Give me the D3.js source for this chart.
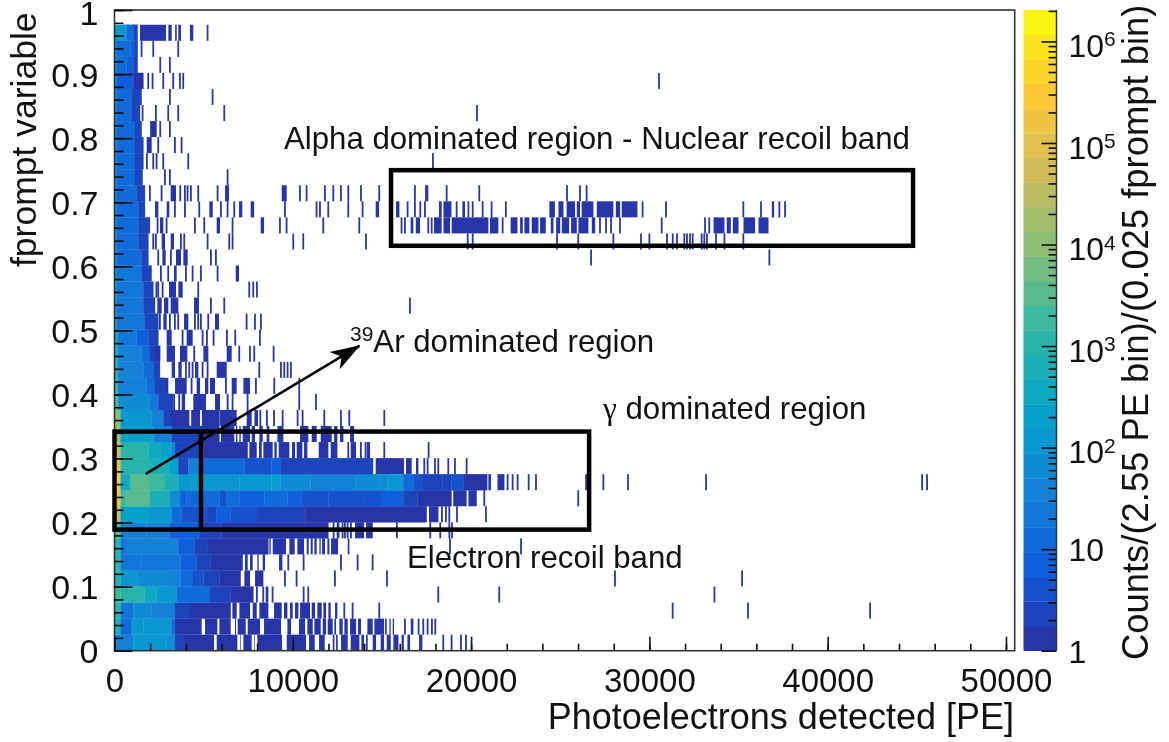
<!DOCTYPE html>
<html>
<head>
<meta charset="utf-8">
<script src="https://cdn.jsdelivr.net/npm/d3@7"></script>
<style>
  html, body { margin: 0; padding: 0; background: #fff; }
  svg { display: block; font-family: "Liberation Sans", sans-serif; filter: blur(0.45px); }
  .domain { display: none; }
  .tick line { stroke: #111; stroke-width: 1.6; }
</style>
</head>
<body>
<svg id="chart" width="1169" height="742"></svg>
<script>
// fprompt bin width, bins run upward from 0 (39 filled rows)
const fpromptBin = 0.02505;
const peBin = 100;
const maxPE = 50490;
const maxCounts = 2.04e6;

const xMajor = [0, 10000, 20000, 30000, 40000, 50000];
const xMinor = d3.range(0, 50001, 2000);
const yMajor = [0, 0.1, 0.2, 0.3, 0.4, 0.5, 0.6, 0.7, 0.8, 0.9, 1];
const yMinor = d3.range(0, 51).map(d => d / 50);
const barMajor = [1, 10, 100, 1000, 10000, 100000, 1000000];
const barMinor = [1, 10, 100, 1000, 10000, 100000].flatMap(d => d3.range(2, 10).map(k => k * d)).concat([2000000]);

// dense part of each fprompt row, bottom row first: [upper PE edge, counts]
const coreSteps = [
  [[1057,30],[2927,130],[3395,50],[3900,2]],
  [[346,500],[970,14],[1618,100],[3200,130],[3400,14],[4797,1.5]],
  [[346,900],[1057,20],[2086,50],[3395,30],[4236,3],[6517,1.5]],
  [[346,1500],[1700,1000],[2366,350],[3488,110],[5358,14],[6500,2.5],[7789,1.5]],
  [[346,1100],[1300,90],[3000,50],[3700,30],[4400,12],[5000,5],[5900,2.5],[7078,1.5]],
  [[346,900],[1500,20],[3700,25],[4600,8],[5400,3],[7190,1.5]],
  [[346,1000],[700,20],[3580,35],[4500,8],[5200,2.5],[8630,1.5]],
  [[346,3000],[1800,30],[3114,40],[4797,7],[6000,3],[11996,1.5]],
  [[346,60000],[1992,170],[3208,90],[3769,14],[4800,5],[5200,4],[5700,2],[6500,6],[8000,4],[9000,3],[10700,3],[17512,1.5]],
  [[346,200000],[683,2000],[1992,3200],[3114,500],[3680,70],[4049,6],[5900,14],[6300,5],[7000,10],[8400,6],[9700,16],[10500,6],[12000,4],[14000,5],[15000,4],[16200,7],[17000,3],[18900,1.5]],
  [[346,300000],[870,350],[1992,3000],[2834,2000],[3580,600],[4236,100],[4700,200],[7000,90],[8800,120],[9300,250],[11000,60],[13500,35],[14900,50],[15300,70],[16200,130],[16760,15],[17300,5],[18400,3],[18900,2.5],[19570,5],[20900,1.5]],
  [[346,200000],[1992,1200],[3114,600],[3580,200],[4142,3],[4797,40],[7300,12],[8800,4],[9300,9],[14500,2.5]],
  [[346,50000],[1900,900],[2600,400],[3200,200],[3400,30],[5000,2.5],[7471,1.5]],
  [[346,20000],[2180,170],[3200,40],[4800,2.5],[5882,1.5]],
  [[346,10000],[2080,100],[2740,30],[3114,2.5]],
  [[200,4000],[2000,70],[2460,20],[3300,2.5]],
  [[200,1500],[1800,40],[2270,12],[2830,2.5]],
  [[200,1000],[1620,35],[2180,12],[2550,2.5]],
  [[200,700],[1520,35],[1990,12],[2270,2.5],[2560,1.5]],
  [[200,500],[1240,25],[1900,9],[2460,2]],
  [[130,300],[1712,20],[2460,2.5]],
  [[130,250],[1618,18],[2273,2.5]],
  [[130,200],[1618,18],[2180,2.5]],
  [[130,150],[1525,18],[2085,3]],
  [[130,120],[1525,16],[1900,2.5]],
  [[130,100],[1340,16],[1900,1.8]],
  [[130,90],[1340,16],[1990,2.2]],
  [[130,90],[1340,14],[1710,2]],
  [[130,80],[1240,14],[1710,2]],
  [[130,70],[1150,12],[1580,2]],
  [[130,60],[1150,12],[1620,2]],
  [[130,60],[1150,12],[1620,2]],
  [[130,60],[1150,12],[1525,2]],
  [[130,50],[970,12],[1430,2]],
  [[130,50],[970,12],[1525,2]],
  [[130,50],[1057,8],[1620,1.5]],
  [[130,60],[683,14],[1057,7],[1300,2]],
  [[130,60],[900,15],[1100,6],[1300,2]],
  [[683,100],[1057,10],[1300,2]]
];

// single counts beyond the dense part, bottom row first: a PE value or a [from, to] run
const tailRuns = [
  [[3900,5582],[5732,6891],[7041,7078],[7228,7696],[7826,7864],[8013,9397],[9659,10744],[10912,11230],[11473,11791],[12240,12333],[12426,12520],[12707,13081],[13249,13736],[13848,13997],[14110,14203],[14484,14671],[14932,15119],[15269,15493],[15643,15923],[16100,16230],[16427,16577],[17082,17269],18390,18858,19382,19663],
  [[4797,4890],[5078,5769],[5882,6517],[6760,6817],[6910,7359],[7471,8163],[8387,9341],[9696,9902],[10351,10688],[10818,11118],[11211,11566],[11678,11866],[11959,12240],[12333,12426],[12614,12800],[12894,13081],[13212,13549],[13660,13829],[14184,14484],[14577,15118],[15175,15268],[15418,15492],[15605,15680],16240,[16614,16764],17007,17269,17512,17755,17942],
  [[6611,6854],[7004,7602],[7752,7976],[8126,8630],[8949,9378],[9509,9696],[9846,9995],[10127,10313],[10407,10968],[11062,11249],[11379,11622],[11716,11866],[11996,12128],[12370,12500],12838,13305,14800,31256,35480,42330],
  [7938,8294,[8481,8630],8817,10557,10818,18110,21530,33600],
  [[7284,7602],[7882,8350],9509,10164,12314,15232,28020,35150],
  [[7321,7471],[7602,7752],[8013,8088],[8312,8443],[9229,9416],9696,10557,12651,13586,14427],
  [[8686,8761],[8874,9621],[9808,10108],[10257,10631],[10781,10893],[11005,11117],[11211,11342],[11492,11566],[11641,11809],[11940,12053],[12146,12539],[13081,13175],18765,22750],
  [12240,[12464,12614],12744,12875,13025,13213,[13492,13997],[14110,14484],15790,17660,18220,18730,18880],
  [[17640,18170],18316,18540,18727,19158,20785],
  [[19000,19750],[19850,20320],20690,25960],
  [[20970,21120],[21480,21870],22000,22280,22560,23180,23590,[26400,26500],27370,28750,33130,45245,45525],
  [[14650,16240],[16350,16670],[16910,17045],17325,17512,17923,18110,18671,19045,19700],
  [[7565,7976],[8107,8256],[8350,8874],[8967,9098],[9210,9809],[9958,10127],[10220,10538],[10631,10818],[11454,11996],[12127,12501],13062,[13249,13549],13770,14030,[14147,14334],15081,17568],
  [[5975,6723],[6817,6891],[7004,7078],[7191,7602],[7696,7882],[8126,8313],[8537,8687],[9135,9472],[10407,10875],[11062,11342],[11566,12184],[12314,12501],[12651,12838],[13212,13436]],
  [[3114,4200],[4300,4800],[4900,5900],[5919,6854],[7415,7695],[7850,8050],8130,8500,8900,9380,10220,10500,11716,12650,13118,15082],
  [[3300,3395],3580,[3770,3960],[4423,5134],[5638,5919],[6293,6400],6573,7415,10313,11249],
  [[2833,3020],[3395,4049],4273,[4610,4797],[5078,5264],[5358,5638],6200,[6573,6854],[7228,7602],7882,8911,10313],
  [[3208,3395],[3582,3769],3956,4143,4330,[4517,4704],4891,5171,[5732,6293],8070,9285,9472,9659,9846],
  [[2927,3395],[3675,4086],4423,[4984,5264],[6293,6573],6947,7546,7789,8874],
  [[2927,3208],3769,[4049,4385],4890,5134,5508,6256,6723,8107],
  [2497,[2740,2927],3058,3338,3525,[3900,4142],4460,4647,4797,5208,[5638,5863],7359,7826,8163],
  [[2403,2647],[2777,3020],[3151,3582],[4460,4740],5358,6106,16520],
  [2300,2403,2647,[3058,3450],[3582,3825],4647,7508,7733,7939],
  [2553,2964,[3338,3488],3956,4330,4797,5732,[6797,6985]],
  [2403,[2684,2871],3114,[3450,3731],[3862,4105],5358,5638,26680,36680],
  [2123,2273,[2646,2834],[3151,3338],3675,3862,5171,6386,6573,9977,10538,14054,19760,20040,24770,25960,27930,29480,29950,30940,31260,31500,31910,32060,32230,32380,32880,33030,33180,33690,34160,35220],
  [2366,[2553,2740],2871,4460,4984,[5732,5919],6573,[8200,8390],9229,9603,11660,13680,16050,16240,[16610,16760],[16900,17140],17550,17740,[17920,18350],[18450,18820],[18910,20970],[21060,21530],21720,[22220,22600],[22750,22900],[22990,23270],[23400,23780],[23870,24190],[24470,24620],[24770,25000],[25090,25500],[25610,25930],[26020,26580],[26770,26960],27180,27520,27800,28300,30640,33070,33310,[33600,34210],[34340,34570],[34680,35000],[35280,35930],[36120,36680]],
  [[2273,2460],[2927,3077],3338,3900,4704,[5320,5510],5919,6293,6667,[6985,7170],[7640,7830],9510,11285,11473,11940,13062,13866,[14650,14840],[15790,15980],16390,16800,17100,17360,[18200,18350],[18450,18900],19140,[19510,19660],19800,20040,20600,21100,21900,[24390,24700],[24900,25180],[25360,25830],[25930,26110],[26200,26860],[27050,27980],[28120,28360],[28450,29330],29570,30880,35220,36210,[36870,37000],37240,37560],
  [1936,2590,[3151,3450],3638,3900,4049,4236,4647,5732,[6200,6424],[9378,9660],10351,10725,11753,12221,12651,13062,13773,14800,16800,[17420,17600],18580,20410,25330,26060,26430],
  [2777,3058,6293],
  [1768,2123,2310,2684,4086,17810],
  [[1805,2085],2403,3338,3712],
  [[2000,2366],2516,3058],
  [1525,2273,2964,3525,6106,20280],
  [3058,5451],
  [1842,2085,2684,3245,3619,3806,30490],
  [2516,3058],
  [1468,2123,3525],
  [[1431,2890],[3020,3210],[3400,3490],[3580,3730],[4230,4420],5170]
];

// ROOT kBird palette stops
const birdStops = [0, 0.125, 0.25, 0.375, 0.5, 0.625, 0.75, 0.875, 1];
const birdColors = ['#2a2f9e', '#0f5cdd', '#1481d6', '#06a4ca', '#2eb7a4', '#87bf77', '#d1bb59', '#fec832', '#f9fb0e'];
const contourCount = 26;

// annotation boxes as [PE from, PE to, fprompt low, fprompt high]
const alphaBox = [15510, 44790, 0.632, 0.75];
const electronBox = [0, 26620, 0.189, 0.342];
const innerLine = [4850, 0.189, 0.342];
const arrowLine = [1760, 0.276, 13740, 0.476];

const svg = d3.select('#chart');

const x = d3.scaleLinear().domain([0, maxPE]).range([114.5, 1014.7]);
const y = d3.scaleLinear().domain([0, 1]).range([650.7, 10]);
const yBar = d3.scaleLog().domain([1, maxCounts]).range([650.7, 10]);

const birdScale = d3.scaleLinear().domain(birdStops).range(birdColors).interpolate(d3.interpolateRgb);
const bandColors = d3.range(contourCount).map(i => birdScale((i + 0.5) / contourCount));
const logMax = Math.log10(maxCounts);
const colorOf = d3.scaleQuantize().domain([0, logMax]).range(bandColors);
const countColor = c => colorOf(Math.log10(c));

// flatten rows into cells
const tailCells = [];
tailRuns.forEach((row, r) => {
  row.forEach(hit => {
    const from = Array.isArray(hit) ? hit[0] : hit;
    const to = Array.isArray(hit) ? hit[1] : hit + peBin;
    tailCells.push({ r, from, to, counts: 1 });
  });
});
const coreCells = [];
coreSteps.forEach((row, r) => {
  let from = 0;
  row.forEach(([to, counts]) => {
    coreCells.push({ r, from, to, counts });
    from = to;
  });
});

const plot = svg.append('g');
plot.selectAll('rect.tail')
  .data(tailCells)
  .enter()
  .append('rect')
  .attr('class', 'tail')
  .attr('x', d => x(d.from))
  .attr('y', d => y((d.r + 1) * fpromptBin))
  .attr('width', d => x(d.to) - x(d.from))
  .attr('height', d => y(d.r * fpromptBin) - y((d.r + 1) * fpromptBin))
  .attr('fill', d => countColor(d.counts));

plot.selectAll('rect.core')
  .data(coreCells)
  .enter()
  .append('rect')
  .attr('class', 'core')
  .attr('x', d => x(d.from))
  .attr('y', d => y((d.r + 1) * fpromptBin))
  .attr('width', d => x(d.to) - x(d.from))
  .attr('height', d => y(d.r * fpromptBin) - y((d.r + 1) * fpromptBin))
  .attr('fill', d => countColor(d.counts))
  .attr('stroke', d => countColor(d.counts))
  .attr('stroke-width', 0.3);

// frame
svg.append('rect')
  .attr('x', x(0)).attr('y', y(1))
  .attr('width', x(maxPE) - x(0)).attr('height', y(0) - y(1))
  .attr('fill', 'none').attr('stroke', '#333').attr('stroke-width', 1.6);

// axes
const xAxisMajor = d3.axisBottom(x).tickValues(xMajor).tickSize(-14).tickPadding(17.5).tickFormat(d3.format('d'));
const xAxisMinor = d3.axisBottom(x).tickValues(xMinor).tickSize(-7).tickFormat('');
svg.append('g').attr('transform', `translate(0,${y(0)})`).call(xAxisMinor);
svg.append('g').attr('transform', `translate(0,${y(0)})`).style('font-size', '33px').style('font-family', 'inherit').call(xAxisMajor);

const yAxisMajor = d3.axisLeft(y).tickValues(yMajor).tickSize(-18).tickPadding(16).tickFormat(d => d);
const yAxisMinor = d3.axisLeft(y).tickValues(yMinor).tickSize(-9).tickFormat('');
svg.append('g').attr('transform', `translate(${x(0)},0)`).call(yAxisMinor);
const yTicks = svg.append('g').attr('transform', `translate(${x(0)},0)`).style('font-size', '34px').style('font-family', 'inherit').call(yAxisMajor);
yTicks.selectAll('.tick text').attr('dy', d => d === 1 ? '0.42em' : '0.36em');

svg.selectAll('.tick text').attr('fill', '#111');

// colour bar
const barX0 = 1023.5;
const barX1 = 1056.5;
const bandEdge = i => yBar(Math.pow(10, i / contourCount * logMax));
svg.append('g').selectAll('rect')
  .data(bandColors)
  .enter()
  .append('rect')
  .attr('x', barX0)
  .attr('width', barX1 - barX0)
  .attr('y', (d, i) => bandEdge(i + 1))
  .attr('height', (d, i) => bandEdge(i) - bandEdge(i + 1) + 0.3)
  .attr('fill', d => d);

svg.append('line')
  .attr('x1', barX1).attr('x2', barX1)
  .attr('y1', yBar(maxCounts)).attr('y2', yBar(1))
  .attr('stroke', '#333').attr('stroke-width', 1.4);

const barAxisMinor = d3.axisRight(yBar).tickValues(barMinor).tickSize(-8).tickFormat('');
const barAxisMajor = d3.axisRight(yBar).tickValues(barMajor).tickSize(-15).tickPadding(12).tickFormat(d => d);
svg.append('g').attr('transform', `translate(${barX1},0)`).call(barAxisMinor);
const barTicks = svg.append('g').attr('transform', `translate(${barX1},0)`).style('font-size', '32px').style('font-family', 'inherit').call(barAxisMajor);
barTicks.selectAll('.tick text').attr('fill', '#111').each(function(d) {
  const power = Math.round(Math.log10(d));
  const t = d3.select(this);
  if (power < 2) {
    t.text(d).attr('dy', '0.36em');
  } else {
    t.text('10').attr('dy', '0.47em');
    t.append('tspan').attr('dy', '-0.5em').style('font-size', '21px').text(power);
  }
});

// axis titles
svg.append('text').attr('x', 1014).attr('y', 729).attr('text-anchor', 'end')
  .style('font-size', '36px').attr('fill', '#111').text('Photoelectrons detected [PE]');
svg.append('text').attr('transform', 'translate(36,267) rotate(-90)')
  .style('font-size', '35.5px').attr('fill', '#111').text('fprompt variable');
svg.append('text').attr('transform', 'translate(1147.5,660) rotate(-90)')
  .style('font-size', '36.4px').attr('fill', '#111').text('Counts/(2.55 PE bin)/(0.025 fprompt bin)');

// annotations
const boxes = [alphaBox, electronBox];
svg.append('g').selectAll('rect')
  .data(boxes)
  .enter()
  .append('rect')
  .attr('x', d => x(d[0]))
  .attr('y', d => y(d[3]))
  .attr('width', d => x(d[1]) - x(d[0]))
  .attr('height', d => y(d[2]) - y(d[3]))
  .attr('fill', 'none')
  .attr('stroke', '#000')
  .attr('stroke-width', 4.5);

svg.append('line')
  .attr('x1', x(innerLine[0])).attr('x2', x(innerLine[0]))
  .attr('y1', y(innerLine[1])).attr('y2', y(innerLine[2]))
  .attr('stroke', '#000').attr('stroke-width', 4.5);

svg.append('defs').append('marker')
  .attr('id', 'head')
  .attr('viewBox', '0 0 30 22')
  .attr('refX', 29).attr('refY', 11)
  .attr('markerWidth', 30).attr('markerHeight', 22)
  .attr('markerUnits', 'userSpaceOnUse')
  .attr('orient', 'auto')
  .append('path')
  .attr('d', 'M0,1 L30,11 L0,21 L8,11 Z')
  .attr('fill', '#000');

svg.append('line')
  .attr('x1', x(arrowLine[0])).attr('y1', y(arrowLine[1]))
  .attr('x2', x(arrowLine[2])).attr('y2', y(arrowLine[3]))
  .attr('stroke', '#000').attr('stroke-width', 2.6)
  .attr('marker-end', 'url(#head)');

const notes = svg.append('g').style('font-size', '31.2px').attr('fill', '#111');
notes.append('text').attr('x', 284).attr('y', 149).text('Alpha dominated region - Nuclear recoil band');
const ar = notes.append('text').attr('x', 350).attr('y', 352);
ar.append('tspan').attr('dy', '-11').style('font-size', '21px').text('39');
ar.append('tspan').attr('dy', '11').text('Ar dominated region');
const gammaNote = notes.append('text').attr('x', 603).attr('y', 419);
gammaNote.append('tspan').style('font-family', '"Liberation Serif", serif').text('γ');
gammaNote.append('tspan').text(' dominated region');
notes.append('text').attr('x', 407).attr('y', 568).text('Electron recoil band');
</script>
</body>
</html>
